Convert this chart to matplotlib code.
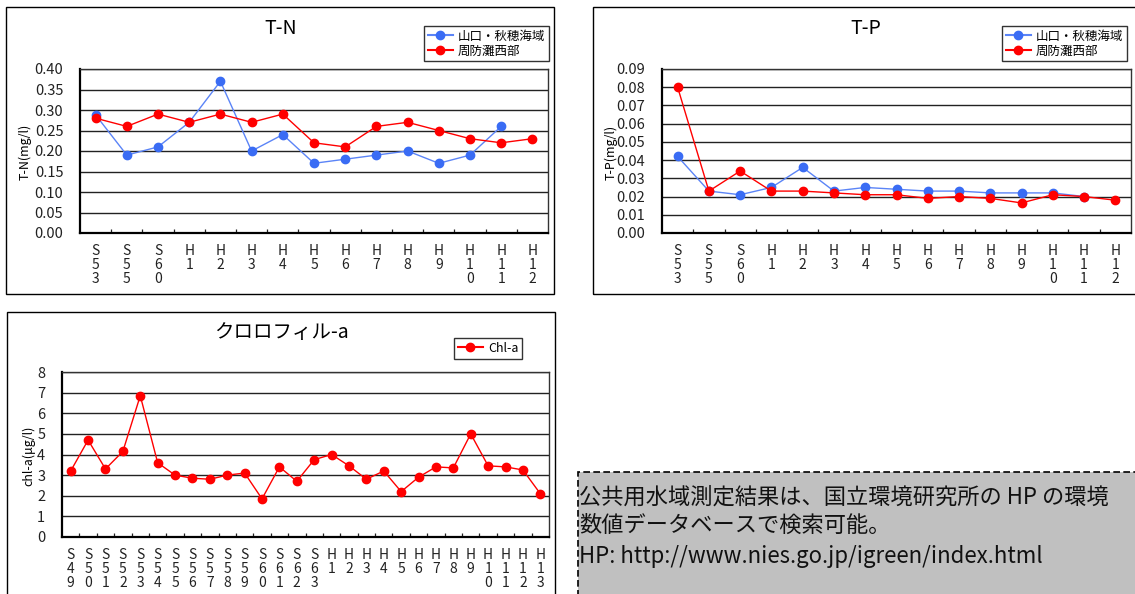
import matplotlib
matplotlib.use("Agg")
import matplotlib.pyplot as plt
from matplotlib.patches import Rectangle
from matplotlib.lines import Line2D
from matplotlib.ticker import FixedLocator, FormatStrFormatter

plt.rcParams['font.family'] = ['Noto Sans CJK JP', 'DejaVu Sans']

# ---- data ----
years_np = ['S53', 'S55', 'S60', 'H1', 'H2', 'H3', 'H4', 'H5', 'H6', 'H7',
            'H8', 'H9', 'H10', 'H11', 'H12']
tn_yamaguchi = [0.288, 0.19, 0.21, 0.27, 0.37, 0.20, 0.24, 0.17, 0.18, 0.19,
                0.20, 0.17, 0.19, 0.26, None]
tn_suonada = [0.28, 0.26, 0.29, 0.27, 0.29, 0.27, 0.29, 0.22, 0.21, 0.26,
              0.27, 0.25, 0.23, 0.22, 0.23]
tp_yamaguchi = [0.042, 0.023, 0.021, 0.025, 0.036, 0.023, 0.025, 0.024, 0.023,
                0.023, 0.022, 0.022, 0.022, 0.020, None]
tp_suonada = [0.080, 0.023, 0.034, 0.023, 0.023, 0.022, 0.021, 0.021, 0.019,
              0.020, 0.019, 0.0165, 0.021, 0.020, 0.018]

years_chl = ['S49', 'S50', 'S51', 'S52', 'S53', 'S54', 'S55', 'S56', 'S57',
             'S58', 'S59', 'S60', 'S61', 'S62', 'S63', 'H1', 'H2', 'H3', 'H4',
             'H5', 'H6', 'H7', 'H8', 'H9', 'H10', 'H11', 'H12', 'H13']
chl_a = [3.2, 4.7, 3.3, 4.15, 6.85, 3.6, 3.0, 2.85, 2.8, 3.0, 3.1, 1.85, 3.4,
         2.7, 3.75, 4.0, 3.45, 2.8, 3.2, 2.2, 2.9, 3.4, 3.35, 5.0, 3.45, 3.4,
         3.25, 2.1]

series_names = ['山口・秋穂海域', '周防灘西部']
chl_name = 'Chl-a'
note_lines = ['公共用水域測定結果は、国立環境研究所の HP の環境',
              '数値データベースで検索可能。',
              'HP: http://www.nies.go.jp/igreen/index.html']

# ---- figure ----
W, H = 1135, 594
fig = plt.figure(figsize=(W / 100, H / 100), dpi=100)
fig.patch.set_facecolor('white')

BLUE = '#3a6cf4'
BLUE_LINE = '#5b84f7'
RED = '#ff0000'


def fx(x):
    return x / W


def fy(y):
    return 1 - y / H


def px_axes(left, top, right, bottom):
    return fig.add_axes([fx(left), fy(bottom), (right - left) / W,
                         (bottom - top) / H])


def frame(left, top, right, bottom, **kw):
    fig.patches.append(Rectangle((fx(left), fy(bottom)), (right - left) / W,
                                 (bottom - top) / H, transform=fig.transFigure,
                                 **kw))


def vlabel(cat):
    return '\n'.join(cat)


def style_axes(ax, cats, ymax, ystep, fmt):
    n = len(cats)
    ax.set_xlim(-0.5, n - 0.5)
    ax.set_ylim(0, ymax)
    ax.set_xticks(range(n))
    ax.set_xticklabels([vlabel(c) for c in cats], fontsize=10,
                       linespacing=1.0, color='#222222')
    ax.xaxis.set_minor_locator(FixedLocator([i + 0.5 for i in range(n - 1)]))
    ax.tick_params(axis='x', which='major', length=0, pad=8)
    ax.tick_params(axis='x', which='minor', length=3, direction='in',
                   width=0.9, color='#222222')
    nt = int(round(ymax / ystep))
    ax.set_yticks([i * ystep for i in range(nt + 1)])
    ax.yaxis.set_major_formatter(FormatStrFormatter(fmt))
    ax.tick_params(axis='y', length=0, labelsize=10.5, pad=12,
                   labelcolor='#222222')
    ax.grid(axis='y', color='#222222', linewidth=1.0)
    ax.set_axisbelow(True)
    for s in ('left', 'bottom'):
        ax.spines[s].set_linewidth(1.6)
        ax.spines[s].set_color('black')
    for s in ('top', 'right'):
        ax.spines[s].set_linewidth(1.0)
        ax.spines[s].set_color('#333333')


def plot_series(ax, values, color, line_color, label):
    xs = [i for i, v in enumerate(values) if v is not None]
    ys = [v for v in values if v is not None]
    ax.plot(xs, ys, color=line_color, linewidth=1.0, marker='o',
            markersize=6, markerfacecolor=color, markeredgecolor=color,
            label=label, clip_on=False, zorder=3)


def add_legend(ax, right, top, handles):
    leg = ax.legend(handles=handles, loc='upper right',
                    bbox_to_anchor=(fx(right), fy(top)),
                    bbox_transform=fig.transFigure, borderaxespad=0,
                    frameon=True, fancybox=False, fontsize=9,
                    handlelength=2.0, handletextpad=0.4, labelspacing=0.15,
                    borderpad=0.3)
    leg.get_frame().set_edgecolor('black')
    leg.get_frame().set_linewidth(1.0)
    return leg


def handles_two():
    return [Line2D([], [], color=BLUE_LINE, marker='o', markersize=6,
                   markerfacecolor=BLUE, markeredgecolor=BLUE,
                   label=series_names[0]),
            Line2D([], [], color=RED, marker='o', markersize=6,
                   markerfacecolor=RED, markeredgecolor=RED,
                   label=series_names[1])]


# panel frames
frame(6, 7, 554, 294, fill=False, edgecolor='black', linewidth=1.0)
frame(593, 7, 1140, 294, fill=False, edgecolor='black', linewidth=1.0)
frame(7, 312, 555, 600, fill=False, edgecolor='black', linewidth=1.0)

# ---- T-N ----
ax1 = px_axes(80, 69, 548, 233)
style_axes(ax1, years_np, 0.40, 0.05, '%.2f')
plot_series(ax1, tn_yamaguchi, BLUE, BLUE_LINE, series_names[0])
plot_series(ax1, tn_suonada, RED, RED, series_names[1])
fig.text(fx(281), fy(28), 'T-N', ha='center', va='center', fontsize=14)
fig.text(fx(25), fy(152), 'T-N(mg/l)', ha='center', va='center',
         rotation=90, fontsize=9)
add_legend(ax1, 549, 26, handles_two())

# ---- T-P ----
ax2 = px_axes(662, 69, 1131, 233)
style_axes(ax2, years_np, 0.09, 0.01, '%.2f')
plot_series(ax2, tp_yamaguchi, BLUE, BLUE_LINE, series_names[0])
plot_series(ax2, tp_suonada, RED, RED, series_names[1])
fig.text(fx(866), fy(28), 'T-P', ha='center', va='center', fontsize=14)
fig.text(fx(611), fy(152), 'T-P(mg/l)', ha='center', va='center',
         rotation=90, fontsize=9)
add_legend(ax2, 1127, 26, handles_two())

# ---- Chl-a ----
ax3 = px_axes(62, 372, 549, 537)
style_axes(ax3, years_chl, 8, 1, '%d')
plot_series(ax3, chl_a, RED, RED, chl_name)
fig.text(fx(281), fy(333), 'クロロフィル-a', ha='center', va='center',
         fontsize=14)
fig.text(fx(29), fy(456), 'chl-a(μg/l)', ha='center', va='center',
         rotation=90, fontsize=9)
add_legend(ax3, 522, 338,
           [Line2D([], [], color=RED, marker='o', markersize=6,
                   markerfacecolor=RED, markeredgecolor=RED,
                   label=chl_name)])

# ---- note box ----
frame(578, 472, 1140, 600, facecolor='#c0c0c0', edgecolor='black',
      linewidth=1.2, linestyle=(0, (4, 2)))
for line, y in zip(note_lines, [497, 525, 557]):
    fig.text(fx(579), fy(y), line, ha='left', va='center', fontsize=16,
             color='#111111')

fig.savefig('out.png', dpi=100, facecolor='white')
